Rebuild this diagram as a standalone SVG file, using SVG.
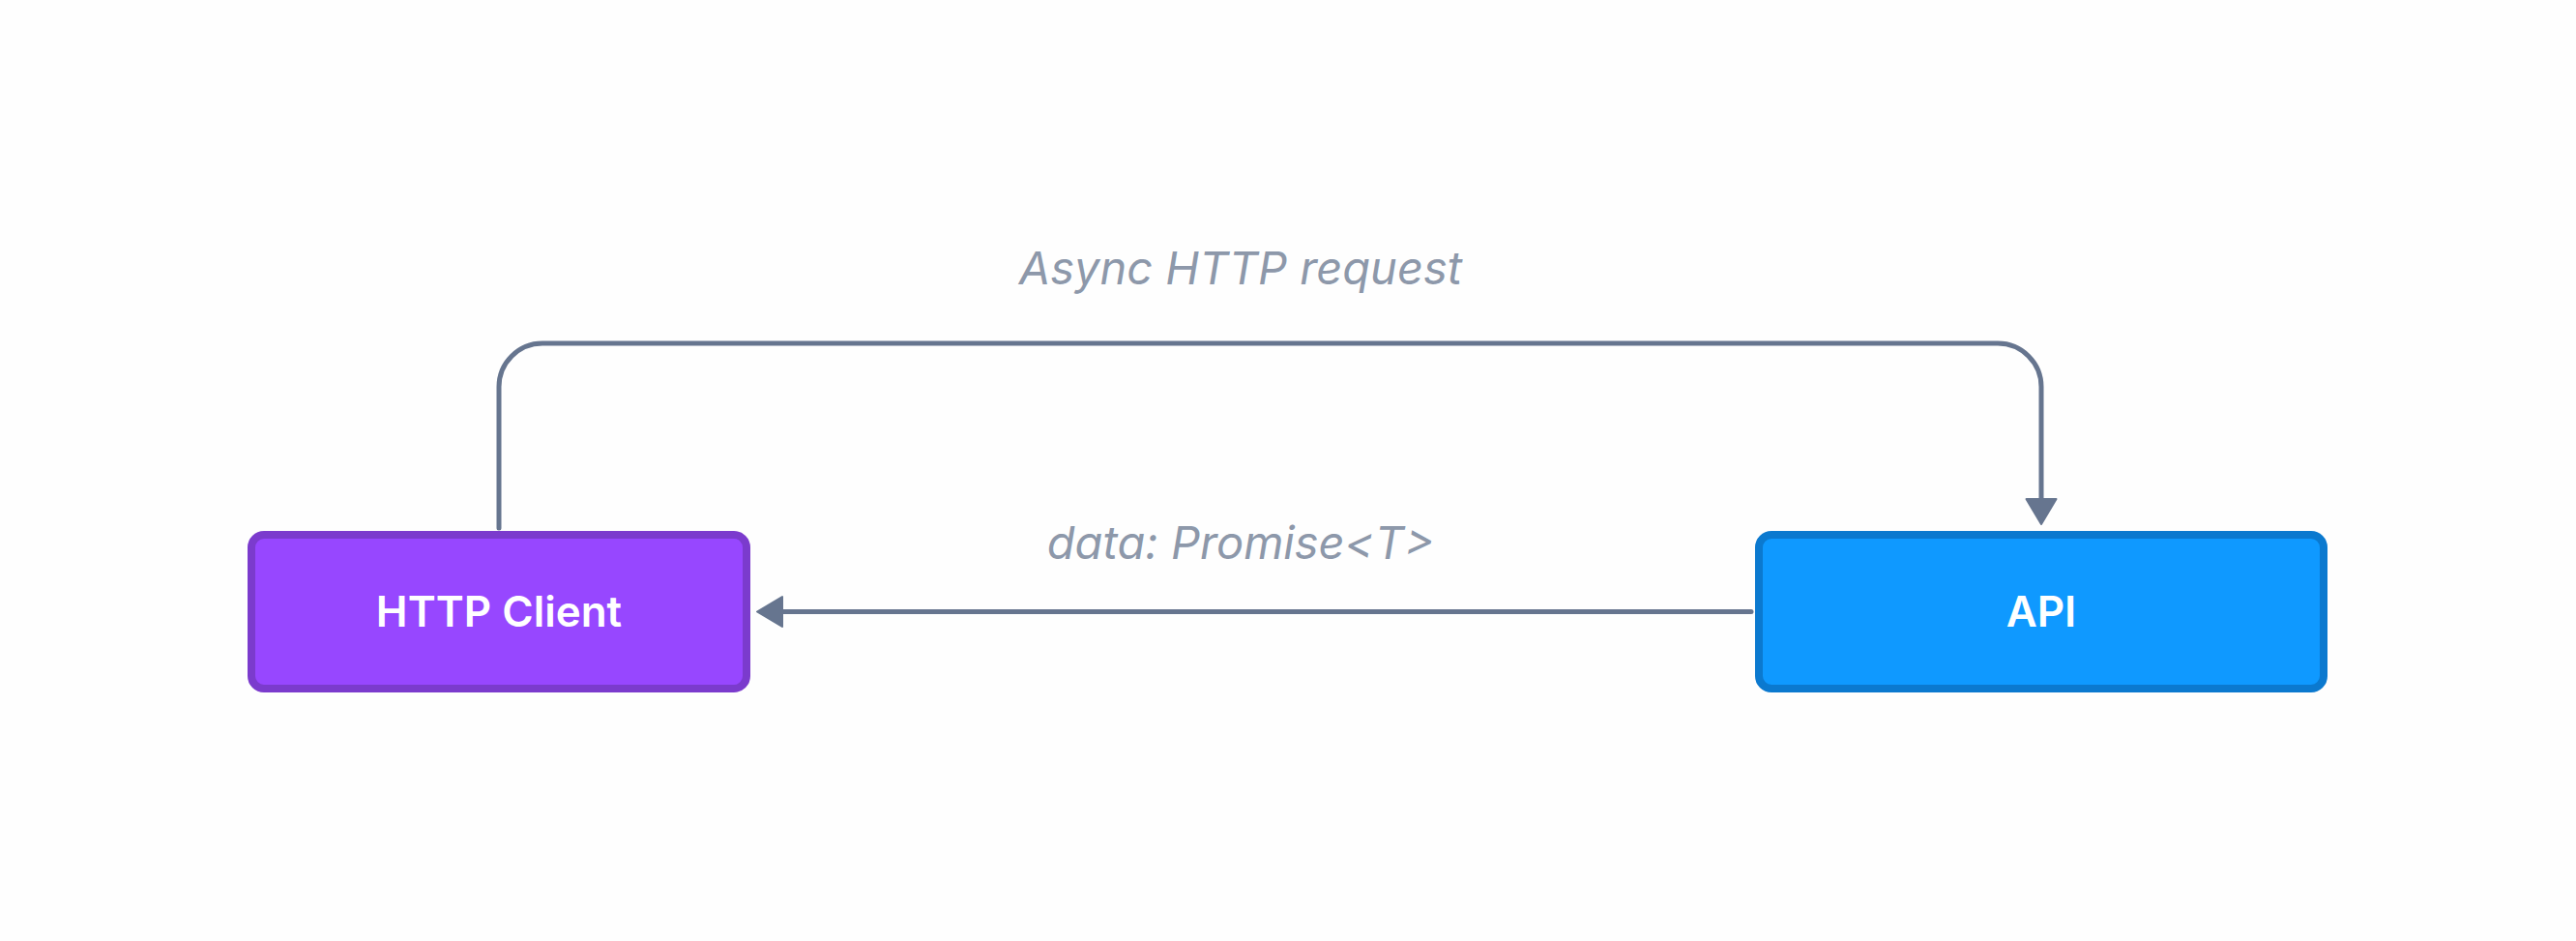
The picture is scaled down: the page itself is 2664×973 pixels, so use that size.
<svg xmlns="http://www.w3.org/2000/svg" width="2664" height="973" viewBox="0 0 2664 973">
  <style>
    .bg { fill: #FEFEFE; }
    .node-label { font-family: Inter, "Liberation Sans", sans-serif; font-weight: 600; font-size: 44px; fill: #FFFFFF; text-anchor: middle; }
    .edge { fill: none; stroke: #66758F; stroke-width: 5; stroke-linecap: round; stroke-linejoin: round; }
    .edge-label { font-family: Inter, "Liberation Sans", sans-serif; font-style: italic; font-size: 47px; fill: #8D98AA; text-anchor: middle; }
    .client { fill: #9747FF; stroke: #7B3BCD; stroke-width: 8; }
    .api { fill: #0F99FF; stroke: #0B79CF; stroke-width: 8; }
  </style>
  <defs>
    <marker id="arrow" viewBox="0 0 26 31" refX="1" refY="15.5" markerWidth="26" markerHeight="31" markerUnits="userSpaceOnUse" orient="auto" overflow="visible">
      <path d="M0,0 L26,15.5 L0,31 Z" fill="#66758F" stroke="#66758F" stroke-width="2" stroke-linejoin="round"/>
    </marker>
  </defs>
  <rect class="bg" x="0" y="0" width="2664" height="973"/>

  <g id="connectors">
    <path class="edge" d="M516,546 L516,400 A45,45 0 0 1 561,355 L2066,355 A45,45 0 0 1 2111,400 L2111,517" marker-end="url(#arrow)"/>
    <text class="edge-label" x="1283" y="294">Async HTTP request</text>
    <path class="edge" d="M1811,632.5 L808,632.5" marker-end="url(#arrow)"/>
    <text class="edge-label" x="1283" y="578">data: Promise&lt;T&gt;</text>
  </g>

  <g id="node-http-client">
    <rect class="client" x="260" y="553" width="512" height="159" rx="13" ry="13"/>
    <text class="node-label" x="516" y="648">HTTP Client</text>
  </g>

  <g id="node-api">
    <rect class="api" x="1819" y="553" width="584" height="159" rx="13" ry="13"/>
    <text class="node-label" x="2111" y="648">API</text>
  </g>
</svg>
